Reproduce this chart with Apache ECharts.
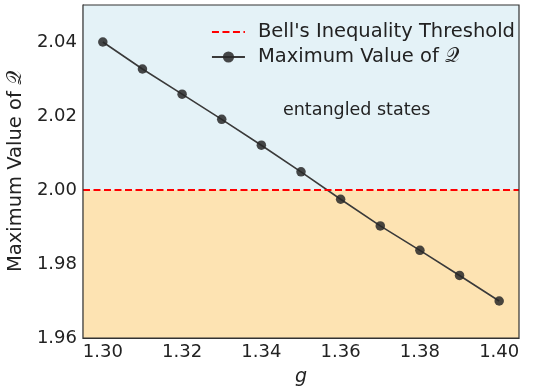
<!DOCTYPE html>
<html>
<head>
<meta charset="utf-8">
<script src="https://cdn.jsdelivr.net/npm/echarts@6/dist/echarts.min.js"></script>
<style>
  html, body { margin: 0; padding: 0; background: #fff; }
  #chart { width: 535px; height: 386px; }
</style>
</head>
<body>
<div id="chart"></div>
<script>
const gValues = [1.30, 1.31, 1.32, 1.33, 1.34, 1.35, 1.36, 1.37, 1.38, 1.39, 1.40];
const qMax = [2.040, 2.0327, 2.0259, 2.0191, 2.0121, 2.0049, 1.9975, 1.9903, 1.9837, 1.9769, 1.9700];
const xTicks = [1.30, 1.32, 1.34, 1.36, 1.38, 1.40];
const threshold = 2.0;
const xRange = [1.295, 1.405];
const yRange = [1.96, 2.05];

const FONT = "DejaVu Sans";
const myChart = echarts.init(document.getElementById("chart"));

myChart.setOption({
  animation: false,
  textStyle: { fontFamily: FONT },
  grid: { left: 83, right: 16, top: 5, bottom: 48, outerBoundsMode: "none", containLabel: false },
  legend: {
    right: 15,
    top: 17,
    orient: "vertical",
    itemWidth: 33,
    itemHeight: 14,
    itemGap: 5,
    textStyle: { fontSize: 19.5, color: "#222", fontFamily: FONT, padding: [0, 0, 0, 8] },
    data: [
      { name: "Bell's Inequality Threshold", itemStyle: { opacity: 0 } },
      { name: "Maximum Value of 𝒬" },
    ],
  },
  xAxis: {
    type: "value",
    min: xRange[0],
    max: xRange[1],
    name: "g",
    nameLocation: "middle",
    nameGap: 30,
    nameTextStyle: { fontSize: 19, fontStyle: "italic", color: "#222" },
    axisLine: { show: true, onZero: false, lineStyle: { color: "#333", width: 1.2 } },
    axisTick: { show: true, inside: true, length: 4, customValues: xTicks, lineStyle: { color: "#333" } },
    axisLabel: {
      fontSize: 18,
      color: "#222",
      margin: 5,
      customValues: xTicks,
      formatter: (v) => v.toFixed(2),
    },
    splitLine: { show: false },
  },
  yAxis: {
    type: "value",
    min: yRange[0],
    max: yRange[1],
    interval: 0.02,
    name: "Maximum Value of 𝒬",
    nameLocation: "middle",
    nameGap: 48,
    nameTextStyle: { fontSize: 19.5, color: "#222" },
    axisLine: { show: true, lineStyle: { color: "#333", width: 1.2 } },
    axisTick: { show: true, inside: true, length: 4, lineStyle: { color: "#333" } },
    axisLabel: {
      fontSize: 18,
      color: "#222",
      margin: 6,
      formatter: (v) => v.toFixed(2),
      showMaxLabel: false,
    },
    splitLine: { show: false },
  },
  series: [
    {
      name: "Bell's Inequality Threshold",
      type: "line",
      data: [],
      symbol: "none",
      lineStyle: { color: "#ff0000", type: [7, 3.5], width: 2 },
      itemStyle: { color: "#ff0000" },
      markArea: {
        silent: true,
        data: [
          [
            { yAxis: threshold, itemStyle: { color: "#e4f2f7" } },
            { yAxis: yRange[1] },
          ],
          [
            { yAxis: yRange[0], itemStyle: { color: "#fde3b2" } },
            { yAxis: threshold },
          ],
        ],
      },
      markLine: {
        silent: true,
        symbol: "none",
        label: { show: false },
        lineStyle: { color: "#ff0000", type: [7, 3.5], width: 2 },
        data: [{ yAxis: threshold }],
      },
      z: 3,
    },
    {
      name: "Maximum Value of 𝒬",
      type: "line",
      data: gValues.map((g, i) => [g, qMax[i]]),
      symbol: "circle",
      symbolSize: 9.5,
      lineStyle: { color: "#3a3a3a", width: 1.6 },
      itemStyle: { color: "rgba(40,40,40,0.85)" },
      z: 4,
    },
  ],
  graphic: [
    {
      type: "text",
      left: 283,
      top: 101,
      z: 100,
      style: { text: "entangled states", fontSize: 17.5, fill: "#222", fontFamily: FONT },
    },
    {
      type: "rect",
      z: 100,
      shape: { x: 83, y: 5, width: 436, height: 333 },
      style: { fill: "none", stroke: "#333", lineWidth: 1.2 },
    },
  ],
});
</script>
</body>
</html>
